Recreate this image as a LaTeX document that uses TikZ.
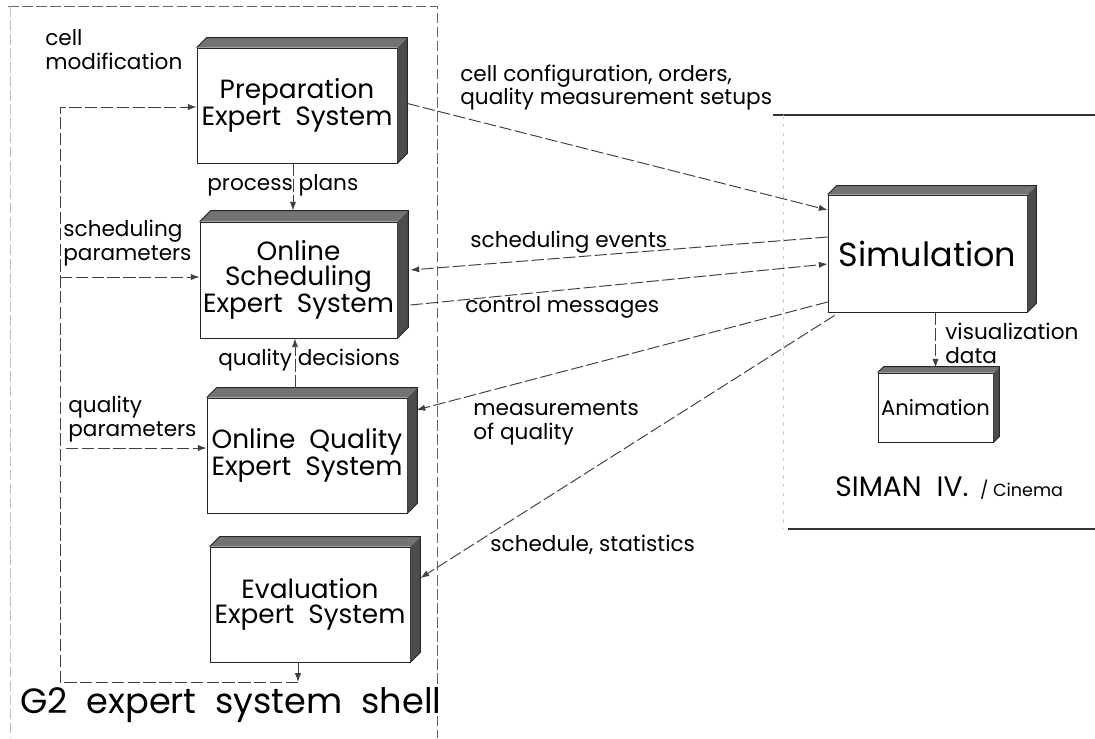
\documentclass[tikz,border=0pt]{standalone}
\usepackage{fontspec}
\setmainfont{Poppins}
\usetikzlibrary{arrows.meta,calc}
\newcommand\lblfont{\fontsize{12.3}{13.6}\selectfont}
\newcommand\boxfont{\fontsize{15}{14.2}\selectfont}
\newcommand\animfont{\fontsize{12}{14}\selectfont}
\newcommand\simfont{\fontsize{19}{22}\selectfont}
\newcommand\shellfont{\fontsize{20}{24}\selectfont}
\newcommand\simanfont{\fontsize{16}{18}\selectfont}
\newcommand\cinemafont{\fontsize{10}{12}\selectfont}
% raised slab behind a box: top band and right band
\newcommand\slab[2]{%
  \fill[bandtop] (#1.north west) -- ++(#2,-#2) -- ([shift={(#2,-#2)}]#1.north east) -- (#1.north east) -- cycle;
  \fill[bandside] (#1.north east) -- ++(#2,-#2) -- ([shift={(#2,-#2)}]#1.south east) -- (#1.south east) -- cycle;
  \draw[boxline] (#1.north west) -- ++(#2,-#2) -- ([shift={(#2,-#2)}]#1.north east) -- ([shift={(#2,-#2)}]#1.south east) -- (#1.south east);
}
\begin{document}
\begin{tikzpicture}[x=0.02cm,y=-0.02cm,
  boxline/.style={draw=black!85,line width=0.5pt},
  box/.style={boxline,fill=white,font=\boxfont,align=center,inner sep=0pt},
  bandtop/.style={fill=black!55},
  bandside/.style={fill=black!70},
  lbl/.style={font=\lblfont,align=left,inner sep=0pt,anchor=west},
  flow/.style={draw=black!75,line width=0.55pt,dash pattern=on 7pt off 2pt,-{Latex[length=5pt,width=3.6pt]}},
  frame/.style={draw=black!60,line width=0.5pt,dash pattern=on 6pt off 2pt}]
\useasboundingbox[fill=white] (0,0) rectangle (1095,738);

% G2 shell frame
\draw[frame] (8,6) -- (437,6) -- (437,738);
\draw[frame,draw=black!25] (10,6) -- (10,738);

% SIMAN enclosure lines
\draw[line width=0.6pt,draw=black!80] (773,115) -- (1095,115);
\draw[line width=0.6pt,draw=black!80] (788,529) -- (1095,529);
\draw[draw=black!20,dash pattern=on 2pt off 3pt] (783,115) -- (783,529);

% expert systems
\node[box,minimum width=4cm,minimum height=2.3cm] (prep) at (297,105.5) {Preparation\\Expert\ \ System};
\node[box,minimum width=3.94cm,minimum height=2.32cm] (sched) at (298.5,280) {Online\\Scheduling\\Expert\ \ System};
\node[box,minimum width=4cm,minimum height=2.3cm] (qual) at (307,455.5) {Online\ \ Quality\\Expert\ \ System};
\node[box,minimum width=4cm,minimum height=2.3cm] (eval) at (310,604.5) {Evaluation\\Expert\ \ System};
\node[box,minimum width=3.98cm,minimum height=2.34cm,font=\simfont] (sim) at (927.5,253.5) {Simulation};
\node[box,minimum width=2.3cm,minimum height=1.38cm,font=\animfont] (anim) at (935.5,407.5) {Animation};
\slab{prep}{10}
\slab{sched}{11}
\slab{qual}{10}
\slab{eval}{10}
\slab{sim}{9}
\slab{anim}{6}

% labels
\node[lbl] (cellmod) at (45,50) {cell\\modification};
\node[lbl] (procplans) at (207,185) {process\ plans};
\node[lbl] (schedpar) at (63,243.5) {scheduling\\parameters};
\node[lbl] (qualdec) at (218,360) {quality\ decisions};
\node[lbl] (qualpar) at (68,419) {quality\\parameters};
\node[lbl] (cellconf) at (460,87.5) {cell configuration, orders,\\quality measurement setups};
\node[lbl] (schedev) at (470,242) {scheduling events};
\node[lbl] (ctrl) at (465,307) {control messages};
\node[lbl] (meas) at (473,422.5) {measurements\\of quality};
\node[lbl] (stat) at (490,545) {schedule, statistics};
\node[lbl] (vis) at (945,343) {visualization\\data};
\node[lbl] (siman) at (835,488) {{\simanfont SIMAN\ \ IV.}\ \ {\cinemafont / Cinema}};
\node[lbl,font=\shellfont] (shell) at (20,705) {G2\ \ expert\ \ system\ \ shell};

% internal flows
\draw[flow] ([shift={(-4,0)}]prep.south) -- ([shift={(-5.5,-11)}]sched.north);
\draw[flow] ([shift={(-12,-10)}]qual.north) -- ([shift={(-3.5,0)}]sched.south);

% feedback loop
\coordinate (lb) at (298,682);
\coordinate (lc) at (60,682);
\coordinate (lt) at (60,107);
\coordinate (ls) at (60,277);
\coordinate (lq) at (66,448);
\draw[flow] ([shift={(-12,0)}]eval.south) -- (lb);
\draw[flow] (lb) -- (lc) -- (lt) -- (lt -| prep.west);
\draw[flow] (ls) -- (ls -| sched.west);
\draw[flow] (lq) -- (lq -| qual.west);

% links to the simulation
\draw[flow] ([shift={(10,-2)}]prep.east) -- ([shift={(0,-43.5)}]sim.west);
\draw[flow] ([shift={(0,-16.5)}]sim.west) -- ([shift={(13,-10)}]sched.east);
\draw[flow] ([shift={(13,25)}]sched.east) -- ([shift={(0,10.5)}]sim.west);
\draw[flow] ([shift={(0,48.5)}]sim.west) -- ([shift={(9,-45.5)}]qual.east);
\draw[flow] ([shift={(7,3)}]sim.south west) -- ([shift={(10,-26.5)}]eval.east);
\draw[flow] (anim.north |- sim.south) -- ([shift={(0,-5)}]anim.north);
\end{tikzpicture}
\end{document}
